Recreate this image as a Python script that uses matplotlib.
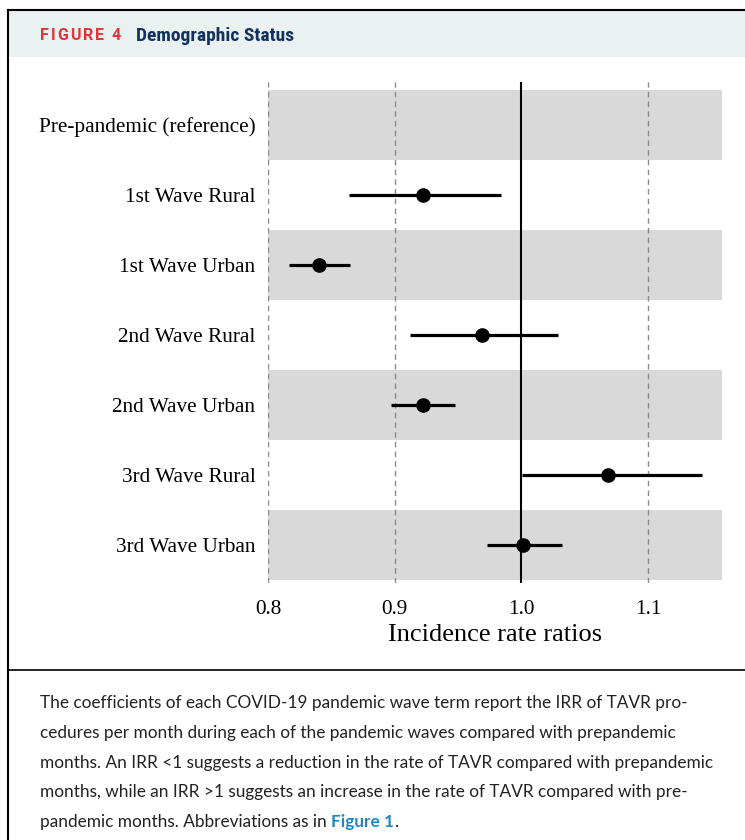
import matplotlib
matplotlib.use("Agg")
import matplotlib.pyplot as plt
from matplotlib.lines import Line2D
from matplotlib.patches import Rectangle

categories = ["Pre-pandemic (reference)", "1st Wave Rural", "1st Wave Urban",
              "2nd Wave Rural", "2nd Wave Urban", "3rd Wave Rural", "3rd Wave Urban"]
irr = [None, 0.922, 0.8405, 0.969, 0.9223, 1.068, 1.0015]
ci_low = [None, 0.864, 0.8168, 0.912, 0.897, 1.0002, 0.9726]
ci_high = [None, 0.984, 0.8647, 1.029, 0.9476, 1.1423, 1.0318]
xticks = [0.8, 0.9, 1.0, 1.1]
xtick_labels = ["0.8", "0.9", "1.0", "1.1"]

W, H = 745, 840
fig = plt.figure(figsize=(W / 100, H / 100), dpi=100)
fig.patch.set_facecolor("white")

def fx(px):
    return px / W

def fy(py):
    return 1 - py / H

# Header band and frame
fig.patches.append(Rectangle((fx(8), fy(57)), 1 - fx(8), (57 - 11) / H, transform=fig.transFigure,
                             facecolor="#e9f1f1", edgecolor="none", zorder=0))
fig.add_artist(Line2D([fx(8), 1], [fy(10), fy(10)], transform=fig.transFigure, color="black", lw=1.5))
fig.add_artist(Line2D([fx(8), fx(8)], [fy(10), 0], transform=fig.transFigure, color="black", lw=1.5))
fig.add_artist(Line2D([fx(8), 1], [fy(670), fy(670)], transform=fig.transFigure, color="black", lw=1.2))

cond = ["Roboto Condensed", "Liberation Sans Narrow", "Roboto", "DejaVu Sans"]
sans = ["Lato", "Open Sans", "DejaVu Sans"]
serif = ["Liberation Serif", "DejaVu Serif"]

# "FIGURE 4" letter-spaced, drawn character by character
label = "FIGURE 4"
xcur = 40.0
spacing = 2.1
for ch in label:
    if ch == " ":
        xcur += 5.0
        continue
    t = fig.text(fx(xcur), fy(36), ch, color="#e3333a", fontsize=11.5, fontweight="bold",
                 family=["Roboto", "DejaVu Sans"], va="center", ha="left")
    fig.canvas.draw()
    xcur = t.get_window_extent(fig.canvas.get_renderer()).x1 + spacing
fig.text(fx(xcur + 13), fy(36), "Demographic Status", color="#14305e", fontsize=14,
         fontweight="bold", family=cond, va="center", ha="left")

# Axes
ax = fig.add_axes([fx(268), fy(583), fx(722) - fx(268), (583 - 82) / H])
ax.set_xlim(0.8, 1.1583)
ax.set_ylim(6.543, -0.614)
for s in ax.spines.values():
    s.set_visible(False)

ypos = list(range(len(categories)))
for i in ypos:
    if i % 2 == 0:
        ax.axhspan(i - 0.5, i + 0.5, color="#d9d9d9", zorder=0, lw=0)

for xt in xticks:
    if xt != 1.0:
        ax.axvline(xt, color="#8a8a8a", lw=1.0, ls=(0, (4, 3)), zorder=1)
ax.axvline(1.0, color="black", lw=1.5, zorder=2)

for i in ypos:
    if irr[i] is None:
        continue
    ax.plot([ci_low[i], ci_high[i]], [i, i], color="black", lw=2.3, zorder=3, solid_capstyle="butt")
    ax.plot(irr[i], i, "o", color="black", ms=9.5, zorder=4)

ax.set_yticks(ypos)
ax.set_yticklabels(categories, family=serif, fontsize=15.3)
ax.set_xticks(xticks)
ax.set_xticklabels(xtick_labels, family=serif, fontsize=15.3)
ax.tick_params(length=0)
ax.tick_params(axis="y", pad=9)
ax.tick_params(axis="x", pad=12)
ax.set_xlabel("Incidence rate ratios", family=serif, fontsize=19, labelpad=4)

# Caption
lines = [
    "The coefficients of each COVID-19 pandemic wave term report the IRR of TAVR pro-",
    "cedures per month during each of the pandemic waves compared with prepandemic",
    "months. An IRR <1 suggests a reduction in the rate of TAVR compared with prepandemic",
    "months, while an IRR >1 suggests an increase in the rate of TAVR compared with pre-",
]
cap_y = [703, 733, 763, 792]
cap_fs = 12.5
probe = fig.text(0, 0, lines[0], fontsize=cap_fs, family=sans)
fig.canvas.draw()
wpx = probe.get_window_extent(fig.canvas.get_renderer()).width
probe.remove()
cap_fs = cap_fs * 648.0 / wpx

for ln, yy in zip(lines, cap_y):
    fig.text(fx(40), fy(yy), ln, fontsize=cap_fs, family=sans, color="#222222", va="center", ha="left")
tl = fig.text(fx(40), fy(822), "pandemic months. Abbreviations as in ", fontsize=cap_fs, family=sans,
              color="#222222", va="center", ha="left")
fig.canvas.draw()
bb = tl.get_window_extent(fig.canvas.get_renderer())
tf = fig.text(bb.x1 / W, fy(822), "Figure 1", fontsize=cap_fs, family=sans, color="#1e88c4",
              fontweight="bold", va="center", ha="left")
fig.canvas.draw()
bb2 = tf.get_window_extent(fig.canvas.get_renderer())
fig.text(bb2.x1 / W, fy(822), ".", fontsize=cap_fs, family=sans, color="#222222", va="center", ha="left")

fig.savefig("out.png", dpi=100)
